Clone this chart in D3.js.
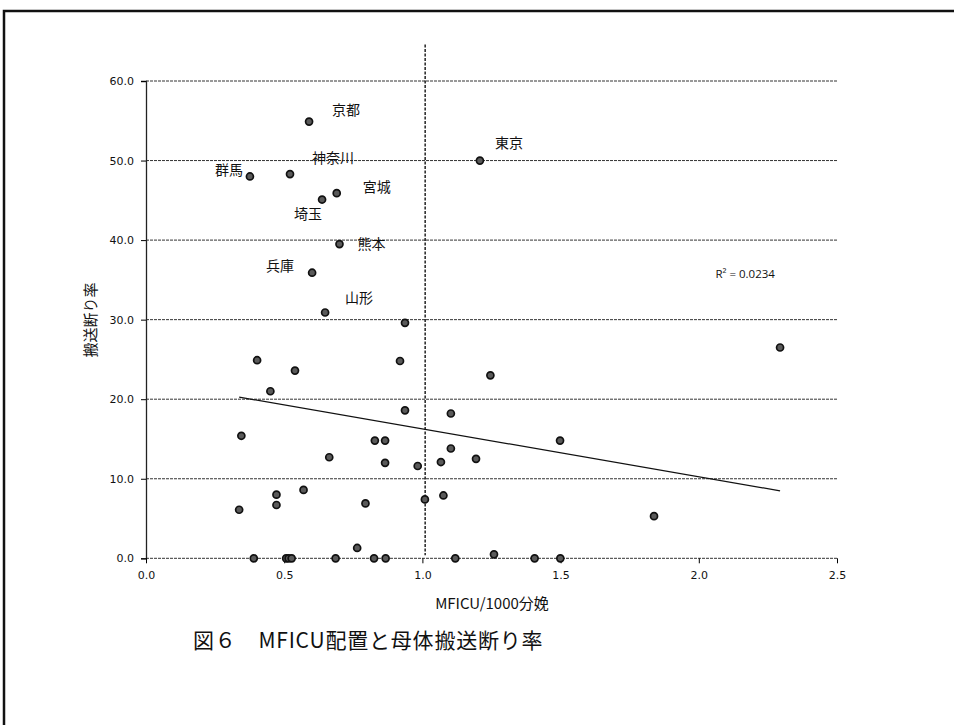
<!DOCTYPE html>
<html>
<head>
<meta charset="utf-8">
<script src="https://cdn.jsdelivr.net/npm/d3@7"></script>
<style>
  body { margin: 0; background: #fff; }
  svg { display: block; }
</style>
</head>
<body>
<div id="chart"></div>
<script>
// MFICU per 1000 births (x) vs. transport refusal rate (y)
var mficu = [0.590, 0.376, 0.521, 0.637, 0.690, 0.700, 0.601, 0.648, 1.208,
    0.937, 0.402, 0.919, 0.539, 0.450, 0.937, 1.103, 0.345, 0.828, 0.865,
    0.663, 0.865, 0.983, 1.067, 1.103, 1.194, 1.498, 1.246, 2.294, 0.570,
    0.472, 0.472, 0.337, 0.794, 1.009, 1.076, 1.838, 0.764, 1.259,
    0.390, 0.507, 0.516, 0.527, 0.686, 0.825, 0.867, 1.119, 1.406, 1.499];
var refusal = [54.9, 48.0, 48.3, 45.1, 45.9, 39.5, 35.9, 30.9, 50.0,
    29.6, 24.9, 24.8, 23.6, 21.0, 18.6, 18.2, 15.4, 14.8, 14.8,
    12.7, 12.0, 11.6, 12.1, 13.8, 12.5, 14.8, 23.0, 26.5, 8.6,
    8.0, 6.7, 6.1, 6.9, 7.4, 7.9, 5.3, 1.3, 0.5,
    0, 0, 0, 0, 0, 0, 0, 0, 0, 0];
var names = ["京都", "群馬", "神奈川", "埼玉", "宮城", "熊本", "兵庫", "山形", "東京"];

var xTicks = [0.0, 0.5, 1.0, 1.5, 2.0, 2.5];
var yTicks = [0, 10, 20, 30, 40, 50, 60];
var trendCoef = [22.29, -6.02];   // intercept, slope of the linear trendline
var refLineX = 1.01;              // dashed reference line
var r2Text = "R² = 0.0234";

var data = mficu.map(function (d, i) {
    return { x: d, y: refusal[i], name: names[i] || null };
});

// label placement relative to the point (pixels)
var labelPos = {
    "京都": [23, -7, "start"], "群馬": [-7, -1, "end"], "神奈川": [22, -11, "start"],
    "埼玉": [-28, 19, "start"], "宮城": [26, -1, "start"], "熊本": [18, 5, "start"],
    "兵庫": [-18, -2, "end"], "山形": [20, -9, "start"], "東京": [15, -13, "start"]
};

var width = 954, height = 725;
var svg = d3.select("#chart").append("svg")
    .attr("width", width)
    .attr("height", height);

svg.append("rect").attr("width", width).attr("height", height).attr("fill", "#fff");

// outer frame (only top and left edges are visible)
svg.append("path")
    .attr("d", "M4," + height + "V11H" + width)
    .attr("fill", "none")
    .attr("stroke", "#111")
    .attr("stroke-width", 2.5);

var xScale = d3.scaleLinear().domain([0, 2.5]).range([146, 837]);
var yScale = d3.scaleLinear().domain([0, 60]).range([558.3, 81]);

var cjk = "'Noto Sans CJK JP', 'Noto Sans', sans-serif";
var numFont = "'DejaVu Sans', sans-serif";

// horizontal gridlines
svg.append("g").selectAll("line")
    .data(yTicks)
    .enter().append("line")
    .attr("x1", xScale(0))
    .attr("x2", xScale(2.5))
    .attr("y1", function (d) { return yScale(d); })
    .attr("y2", function (d) { return yScale(d); })
    .attr("stroke", "#333")
    .attr("stroke-width", 1)
    .attr("stroke-dasharray", "3,1");

// Y axis
var yAxis = svg.append("g")
    .attr("transform", "translate(" + xScale(0) + ",0)")
    .call(d3.axisLeft(yScale).tickValues(yTicks).tickSize(5).tickPadding(7)
        .tickFormat(d3.format(".1f")));
yAxis.select(".domain").attr("stroke", "#222").attr("stroke-width", 1.3);
yAxis.selectAll("text").style("font-family", numFont).style("font-size", "11px").attr("fill", "#111");

// X axis
var xAxis = svg.append("g")
    .attr("transform", "translate(0," + yScale(0) + ")")
    .call(d3.axisBottom(xScale).tickValues(xTicks).tickSize(5).tickPadding(8)
        .tickFormat(d3.format(".1f")));
xAxis.select(".domain").remove();
xAxis.selectAll("text").style("font-family", numFont).style("font-size", "11px").attr("fill", "#111");

// dashed reference line
svg.append("line")
    .attr("x1", xScale(refLineX))
    .attr("x2", xScale(refLineX))
    .attr("y1", yScale(64.6))
    .attr("y2", yScale(0) - 3)
    .attr("stroke", "#222")
    .attr("stroke-width", 1.5)
    .attr("stroke-dasharray", "3,1.5");

// trendline over the data range
var xExt = d3.extent(data, function (d) { return d.x; });
svg.append("line")
    .attr("x1", xScale(xExt[0]))
    .attr("y1", yScale(trendCoef[0] + trendCoef[1] * xExt[0]))
    .attr("x2", xScale(xExt[1]))
    .attr("y2", yScale(trendCoef[0] + trendCoef[1] * xExt[1]))
    .attr("stroke", "#111")
    .attr("stroke-width", 1.2);

// points
svg.append("g").selectAll("circle")
    .data(data)
    .enter().append("circle")
    .attr("cx", function (d) { return xScale(d.x); })
    .attr("cy", function (d) { return yScale(d.y); })
    .attr("r", 3.5)
    .attr("fill", "#5a5a5a")
    .attr("stroke", "#111")
    .attr("stroke-width", 1.7);

// prefecture labels
svg.append("g").selectAll("text")
    .data(data.filter(function (d) { return d.name; }))
    .enter().append("text")
    .attr("x", function (d) { return xScale(d.x) + labelPos[d.name][0]; })
    .attr("y", function (d) { return yScale(d.y) + labelPos[d.name][1]; })
    .attr("text-anchor", function (d) { return labelPos[d.name][2]; })
    .style("font-family", cjk)
    .style("font-size", "14px")
    .attr("fill", "#111")
    .text(function (d) { return d.name; });

// R squared
svg.append("text")
    .attr("x", xScale(2.06))
    .attr("y", yScale(35.2))
    .style("font-family", "'Open Sans', sans-serif")
    .style("font-size", "11.5px")
    .attr("fill", "#111")
    .text(r2Text);

// axis titles
svg.append("text")
    .attr("transform", "translate(96,320) rotate(-90)")
    .attr("text-anchor", "middle")
    .style("font-family", cjk)
    .style("font-size", "15px")
    .attr("fill", "#111")
    .text("搬送断り率");

svg.append("text")
    .attr("x", 492)
    .attr("y", 609)
    .attr("text-anchor", "middle")
    .style("font-family", cjk)
    .style("font-size", "15px")
    .attr("fill", "#111")
    .text("MFICU/1000分娩");

// figure caption
svg.append("text")
    .attr("x", 193)
    .attr("y", 648)
    .style("font-family", cjk)
    .style("font-size", "21px")
    .style("letter-spacing", "0.8px")
    .attr("fill", "#111")
    .text("図６　MFICU配置と母体搬送断り率");
</script>
</body>
</html>
